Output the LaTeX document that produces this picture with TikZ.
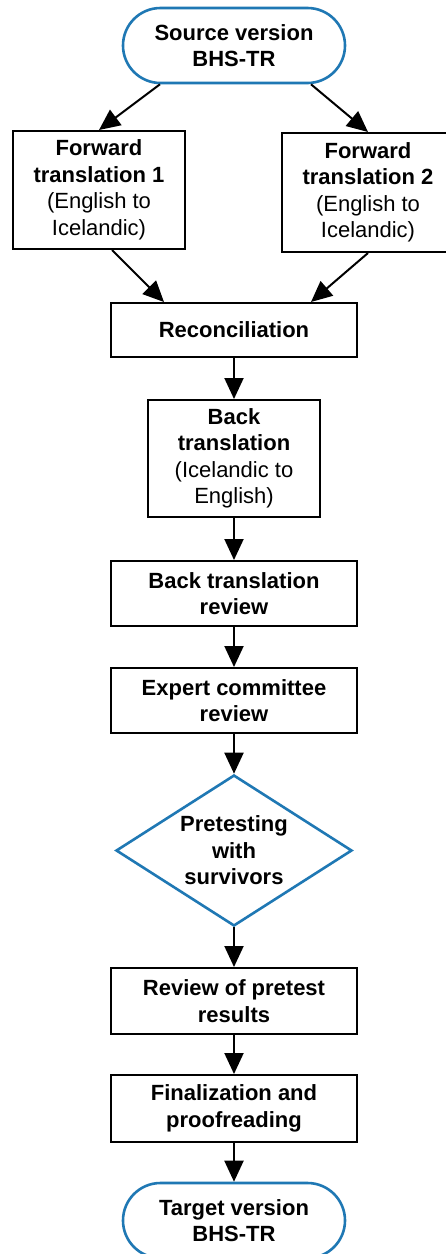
\documentclass[tikz,border=0pt]{standalone}
\usepackage{fontspec}
\setmainfont{Liberation Sans}
\usetikzlibrary{shapes.geometric,shapes.misc,arrows.meta,calc}
\definecolor{tblue}{RGB}{31,120,180}
\begin{document}
\begin{tikzpicture}[x=1pt,y=-1pt,
  txt/.style={align=center,font=\fontsize{22}{26.5}\selectfont,inner sep=0pt,text=black},
  box/.style={txt,draw=black,line width=2pt,fill=white,rectangle},
  term/.style={txt,rounded rectangle,draw=tblue,line width=2.6pt,fill=white,minimum width=222pt,minimum height=75pt},
  dia/.style={txt,diamond,aspect=1.563,draw=tblue,line width=2.6pt,fill=white,minimum width=236pt,minimum height=151pt},
  arr/.style={line width=2pt,-{Triangle[length=21pt,width=19pt]}}]
\clip (0,0) rectangle (446,1254);
\fill[white] (0,0) rectangle (446,1254);
\node[term] (src) at (234,45.5) {\textbf{Source version}\\\textbf{BHS-TR}};
\node[box,minimum width=172pt,minimum height=118pt] (f1) at (99,190) {\textbf{Forward}\\\textbf{translation 1}\\(English to\\Icelandic)};
\node[box,minimum width=172pt,minimum height=119pt] (f2) at (368,192.5) {\textbf{Forward}\\\textbf{translation 2}\\(English to\\Icelandic)};
\node[box,minimum width=246pt,minimum height=54pt] (rec) at (234,330) {\textbf{Reconciliation}};
\node[box,minimum width=172pt,minimum height=117pt] (back) at (234,458.5) {\textbf{Back}\\\textbf{translation}\\(Icelandic to\\English)};
\node[box,minimum width=246pt,minimum height=65pt] (btr) at (234,593.5) {\textbf{Back translation}\\\textbf{review}};
\node[box,minimum width=246pt,minimum height=65pt] (exp) at (234,700.5) {\textbf{Expert committee}\\\textbf{review}};
\node[dia] (pre) at (234,850.5) {\textbf{Pretesting}\\\textbf{with}\\\textbf{survivors}};
\node[box,minimum width=246pt,minimum height=66pt] (rev) at (234,1001) {\textbf{Review of pretest}\\\textbf{results}};
\node[box,minimum width=246pt,minimum height=67pt] (fin) at (234,1108.5) {\textbf{Finalization and}\\\textbf{proofreading}};
\node[term] (tgt) at (234,1220.5) {\textbf{Target version}\\\textbf{BHS-TR}};
\draw[arr] ($(src.south)+(-74,0)$) -- (f1.north);
\draw[arr] ($(src.south)+(77,0)$) -- (f2.north);
\draw[arr] ($(f1.south)+(13,0)$) -- ($(rec.north)+(-70,0)$);
\draw[arr] (f2.south) -- ($(rec.north)+(77,0)$);
\draw[arr] (rec) -- (back);
\draw[arr] (back) -- (btr);
\draw[arr] (btr) -- (exp);
\draw[arr] (exp) -- (pre);
\draw[arr] (pre) -- (rev);
\draw[arr] (rev) -- (fin);
\draw[arr] (fin) -- (tgt);
\end{tikzpicture}
\end{document}
